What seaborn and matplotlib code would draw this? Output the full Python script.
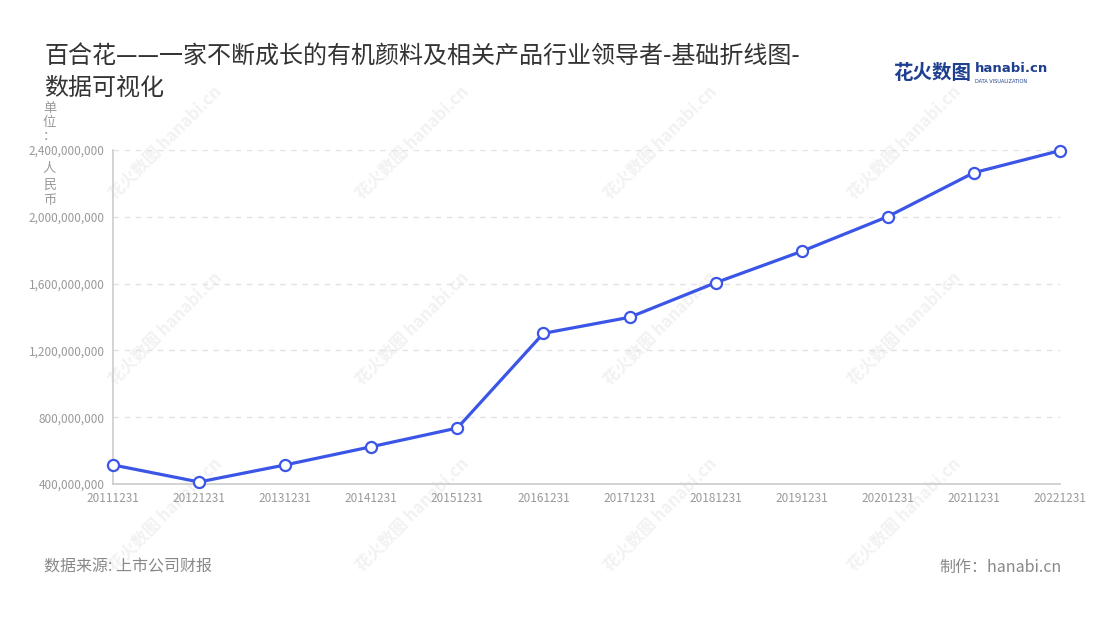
import matplotlib.pyplot as plt
import matplotlib.ticker as mticker
import seaborn as sns
import pandas as pd

# 数据
dates = ["20111231", "20121231", "20131231", "20141231", "20151231", "20161231",
         "20171231", "20181231", "20191231", "20201231", "20211231", "20221231"]
revenue = [514e6, 412e6, 514e6, 623e6, 735e6, 1302e6,
           1398e6, 1605e6, 1793e6, 2001e6, 2264e6, 2396e6]
y_ticks = [400e6, 800e6, 1200e6, 1600e6, 2000e6, 2400e6]

title = "百合花——一家不断成长的有机颜料及相关产品行业领导者-基础折线图-\n数据可视化"
unit_top = "单位："
unit_bottom = "人民币"
source = "数据来源: 上市公司财报"
credit = "制作：hanabi.cn"

df = pd.DataFrame({"日期": dates, "营收": revenue})
df["pos"] = range(len(dates))

sns.set_theme(style="white")
plt.rcParams["font.family"] = ["Noto Sans CJK SC", "DejaVu Sans"]

fig = plt.figure(figsize=(11, 6.2), dpi=100)
ax = fig.add_axes([0.1027, 0.2194, 0.8609, 0.5387])

# 水印（放在最底层）
for wx in [0.15, 0.375, 0.6, 0.822]:
    for wy in [0.77, 0.47, 0.17]:
        fig.text(wx, wy, "花火数图 hanabi.cn", rotation=45, fontsize=12,
                 color="#f2f2f2", ha="center", va="center", zorder=-5,
                 fontweight="bold")

line_color = "#3b55e6"
sns.lineplot(data=df, x="pos", y="营收", ax=ax, color=line_color, linewidth=2.3,
             marker="o", markersize=8, markerfacecolor="white",
             markeredgecolor=line_color, markeredgewidth=1.6, clip_on=False,
             zorder=5)

ax.set_xlim(0, len(dates) - 1)
ax.set_ylim(400e6, 2400e6)
ax.set_xticks(df["pos"])
ax.set_xticklabels(dates)
ax.set_yticks(y_ticks)
ax.yaxis.set_major_formatter(mticker.FuncFormatter(lambda v, p: f"{int(v):,}"))
ax.set_xlabel("")
ax.set_ylabel("")
ax.patch.set_alpha(0)

ax.grid(axis="y", linestyle=(0, (4, 4)), color="#e2e2e2", linewidth=1)
ax.set_axisbelow(True)
for side in ["top", "right"]:
    ax.spines[side].set_visible(False)
for side in ["left", "bottom"]:
    ax.spines[side].set_color("#cccccc")
    ax.spines[side].set_linewidth(1.2)
ax.tick_params(axis="both", which="major", length=4, width=1, color="#cccccc",
               labelcolor="#999999", labelsize=8.5, pad=2, direction="out")

# 标题
fig.text(0.04, 0.93, title, fontsize=17.3, color="#333333", ha="left", va="top",
         linespacing=1.28)

# 纵轴单位（竖排）
fig.text(0.045, 0.836, "\n".join(unit_top), fontsize=9.5, color="#999999",
         ha="center", va="top", linespacing=1.12)
fig.text(0.045, 0.738, "\n".join(unit_bottom), fontsize=9.5, color="#999999",
         ha="center", va="top", linespacing=1.3)

# logo
fig.text(0.812, 0.882, "花火数图", fontsize=14, color="#1f3f8f", fontweight="bold",
         ha="left", va="center")
fig.text(0.886, 0.889, "hanabi.cn", fontsize=9.5, color="#1f3f8f",
         fontweight="bold", ha="left", va="center", family=["DejaVu Sans"])
fig.text(0.886, 0.869, "DATA VISUALIZATION", fontsize=3.6, color="#1f3f8f",
         ha="left", va="center", family=["DejaVu Sans"])

# 底部信息
fig.text(0.04, 0.085, source, fontsize=11.5, color="#888888", ha="left", va="center")
fig.text(0.965, 0.085, credit, fontsize=11.5, color="#888888", ha="right", va="center")

fig.savefig("out.png", dpi=100, facecolor="white")
plt.close(fig)
